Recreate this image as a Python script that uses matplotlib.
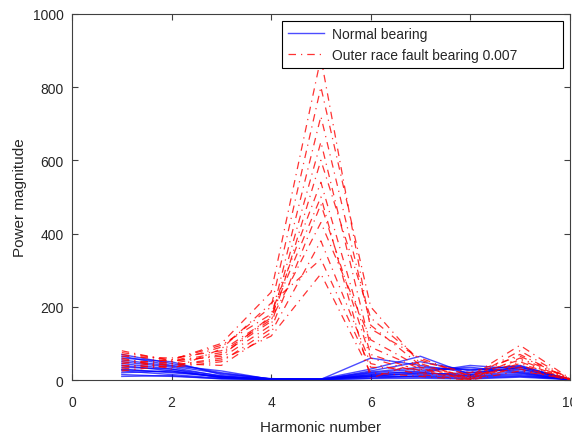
import matplotlib.pyplot as plt
import numpy as np

harmonics = [1, 2, 3, 4, 5, 6, 7, 8, 9, 10]

# normal bearing spectra (one row per record)
normal = [
    [70, 45, 20, 3, 2, 60, 40, 20, 30, 2],
    [65, 40, 25, 2, 3, 30, 65, 15, 35, 3],
    [60, 50, 15, 4, 1, 25, 50, 25, 40, 1],
    [50, 35, 10, 2, 2, 20, 30, 30, 25, 2],
    [45, 30, 12, 1, 1, 15, 25, 35, 20, 1],
    [40, 25, 8, 3, 2, 10, 20, 40, 30, 3],
    [35, 30, 6, 2, 3, 12, 15, 20, 35, 2],
    [30, 20, 10, 1, 1, 18, 22, 10, 15, 1],
    [25, 15, 5, 2, 2, 8, 10, 8, 12, 2],
    [20, 25, 7, 1, 1, 5, 12, 12, 18, 1],
    [15, 10, 4, 2, 2, 10, 8, 5, 10, 2],
    [10, 12, 3, 1, 1, 4, 5, 3, 8, 1],
    [55, 38, 18, 3, 2, 22, 35, 28, 38, 2],
    [28, 22, 9, 2, 1, 14, 18, 15, 22, 1],
]

# outer race fault 0.007 spectra
fault = [
    [75, 55, 100, 240, 880, 140, 60, 10, 95, 5],
    [70, 50, 90, 200, 800, 200, 45, 5, 80, 3],
    [65, 60, 80, 170, 720, 150, 40, 8, 70, 2],
    [55, 45, 70, 160, 650, 90, 30, 3, 60, 4],
    [50, 40, 60, 150, 600, 170, 55, 12, 55, 2],
    [45, 55, 95, 180, 540, 70, 25, 2, 50, 1],
    [40, 35, 50, 140, 480, 60, 20, 6, 45, 3],
    [35, 50, 75, 165, 430, 110, 35, 4, 40, 2],
    [30, 45, 40, 130, 380, 45, 15, 1, 35, 1],
    [60, 30, 85, 210, 330, 35, 30, 15, 30, 0],
    [25, 40, 55, 120, 290, 20, 10, 0, 25, 2],
    [80, 52, 65, 175, 500, 5, 50, 20, 65, 5],
]

plt.rcParams['font.family'] = ['Liberation Sans', 'DejaVu Sans']
txt = '#262626'

fig = plt.figure(figsize=(5.72, 4.35), dpi=100)
ax = fig.add_axes([0.126, 0.124, 0.870, 0.842])

for i, row in enumerate(normal):
    ax.plot(harmonics, row, color='blue', lw=1.0, alpha=0.7,
            label='Normal bearing' if i == 0 else None)
for i, row in enumerate(fault):
    ax.plot(harmonics, row, color='red', lw=0.9, alpha=0.8,
            linestyle=(0, (6, 4, 1, 4)),
            label='Outer race fault bearing 0.007          ' if i == 0 else None)

ax.set_xlim(0, 10)
ax.set_ylim(0, 1000)
ax.set_xticks(np.arange(0, 11, 2))
ax.set_yticks(np.arange(0, 1001, 200))
ax.tick_params(direction='in', top=True, right=True, labelsize=10,
               colors='#404040', labelcolor=txt, length=4)
ax.tick_params(axis='x', pad=11)
ax.tick_params(axis='y', pad=6)
for s in ax.spines.values():
    s.set_color('#404040')
ax.set_xlabel('Harmonic number', fontsize=11, color=txt, labelpad=8)
ax.set_ylabel('Power magnitude', fontsize=11, color=txt, labelpad=4)

leg = ax.legend(loc='upper right', fontsize=10, fancybox=False,
                edgecolor='black', framealpha=1, handlelength=2.6,
                handletextpad=0.6, borderpad=0.45, borderaxespad=0.5)
leg.get_frame().set_linewidth(0.8)
for t in leg.get_texts():
    t.set_color(txt)

fig.savefig('out.png', dpi=100)
